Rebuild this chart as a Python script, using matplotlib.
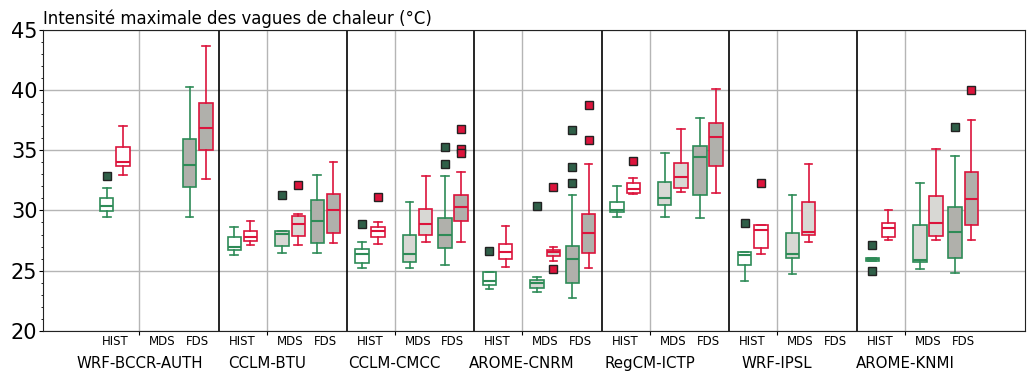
import matplotlib
matplotlib.use("Agg")
import matplotlib.pyplot as plt
from matplotlib.ticker import MultipleLocator, FixedLocator

models = ['WRF-BCCR-AUTH', 'CCLM-BTU', 'CCLM-CMCC', 'AROME-CNRM',
          'RegCM-ICTP', 'WRF-IPSL', 'AROME-KNMI']
periods = ['HIST', 'MDS', 'FDS']

# (whislo, q1, median, q3, whishi) per model; None = no data
green_hist = [
    (29.48, 29.97, 30.33, 31.02, 31.85),
    (26.33, 26.69, 26.93, 27.82, 28.65),
    (25.25, 25.66, 26.41, 26.80, 27.35),
    (23.51, 23.85, 24.18, 24.89, 24.89),
    (29.48, 29.83, 30.00, 30.66, 32.04),
    (24.12, 25.50, 26.33, 26.55, 26.55),
    (25.77, 25.77, 25.94, 26.05, 26.05),
]
green_hist_fl = [[32.87], [], [28.84], [26.6], [], [28.92], [27.15, 24.94]]

red_hist = [
    (32.90, 33.70, 33.98, 35.28, 37.04),
    (27.15, 27.43, 27.82, 28.26, 29.09),
    (27.24, 27.82, 28.26, 28.62, 29.00),
    (25.30, 25.99, 26.57, 27.18, 28.73),
    (31.40, 31.46, 31.77, 32.27, 32.68),
    (26.41, 26.88, 28.40, 28.79, 28.79),
    (27.54, 27.82, 28.54, 28.92, 30.00),
]
red_hist_fl = [[], [], [31.13], [], [34.12], [32.24], []]

green_mds = [
    None,
    (26.44, 27.07, 28.07, 28.26, 28.30),
    (25.25, 25.72, 26.41, 27.98, 30.66),
    (23.20, 23.59, 23.98, 24.23, 24.48),
    (29.48, 30.47, 31.00, 32.35, 34.75),
    (24.70, 26.05, 26.41, 28.15, 31.30),
    (25.14, 25.69, 25.91, 28.81, 32.27),
]
green_mds_fl = [[], [31.3], [], [30.39], [], [], []]

red_mds = [
    None,
    (27.15, 27.90, 28.90, 29.55, 29.72),
    (27.35, 27.98, 28.90, 30.11, 32.87),
    (25.77, 26.24, 26.52, 26.74, 26.99),
    (31.52, 31.85, 32.76, 33.90, 36.74),
    (27.35, 27.98, 28.20, 30.66, 33.81),
    (27.54, 27.90, 28.92, 31.19, 35.08),
]
red_mds_fl = [[], [32.07], [], [31.93, 25.14], [], [], []]

green_fds = [
    (29.48, 31.93, 33.73, 35.90, 40.20),
    (26.44, 27.32, 29.14, 30.86, 32.96),
    (25.44, 26.88, 27.98, 29.39, 32.87),
    (22.73, 23.98, 25.99, 27.07, 31.30),
    (29.39, 31.27, 34.42, 35.36, 37.68),
    None,
    (24.78, 26.05, 28.18, 30.28, 34.53),
]
green_fds_fl = [[], [], [35.28, 33.81], [36.66, 33.62, 32.24], [], [], [36.93]]

red_fds = [
    (32.62, 35.00, 36.82, 38.87, 43.67),
    (27.26, 28.15, 30.06, 31.38, 34.00),
    (27.35, 29.09, 30.25, 31.30, 33.18),
    (25.22, 26.44, 28.15, 29.72, 33.81),
    (31.41, 33.70, 36.08, 37.21, 40.08),
    None,
    (27.54, 28.81, 30.94, 33.18, 37.49),
]
red_fds_fl = [[], [], [36.74, 35.08, 34.72], [38.78, 35.83], [], [], [40.0]]

title = "Intensité maximale des vagues de chaleur (°C)"

GREEN = '#2e8b57'
RED = '#dc143c'
GREEN_FL = '#2f5f48'
FILLS = ['white', '#d8d8d4', '#b0b0ab']
period_off = [0.12, 0.494, 0.77]
pair_gap = 0.127
box_w = 0.105

fig = plt.figure(figsize=(10.27, 3.74), dpi=100)
ax = fig.add_axes([0.0419, 0.115, 0.9561, 0.806])

series = [
    (GREEN, GREEN_FL, 0.0, [green_hist, green_mds, green_fds],
     [green_hist_fl, green_mds_fl, green_fds_fl]),
    (RED, RED, pair_gap, [red_hist, red_mds, red_fds],
     [red_hist_fl, red_mds_fl, red_fds_fl]),
]

for color, flc, shift, stats_lists, fl_lists in series:
    for p in range(3):
        for k in range(len(models)):
            s = stats_lists[p][k]
            if s is None:
                continue
            st = dict(whislo=s[0], q1=s[1], med=s[2], q3=s[3], whishi=s[4],
                      fliers=fl_lists[p][k])
            pos = k + period_off[p] + shift
            ax.bxp([st], positions=[pos], widths=box_w, patch_artist=True,
                   showfliers=True, capwidths=0.06,
                   boxprops=dict(facecolor=FILLS[p], edgecolor=color, lw=1.2),
                   medianprops=dict(color=color, lw=1.5),
                   whiskerprops=dict(color=color, lw=1.2),
                   capprops=dict(color=color, lw=1.2),
                   flierprops=dict(marker='s', markersize=5.5,
                                   markerfacecolor=flc, markeredgecolor='#222222',
                                   markeredgewidth=1.0, linestyle='none'),
                   zorder=3)

for b in range(1, len(models)):
    ax.axvline(b, color='black', lw=1.2, zorder=2)

ax.set_xlim(-0.379, 7.317)
ax.set_ylim(20, 45)
ax.yaxis.set_major_locator(MultipleLocator(5))
ax.yaxis.set_minor_locator(MultipleLocator(1))
ax.tick_params(axis='y', labelsize=15, length=3, pad=1)
ax.tick_params(axis='y', which='minor', length=1.5)

major_x = [k + 0.376 for k in range(len(models))]
minor_x = [k + period_off[p] + pair_gap / 2 for k in range(len(models)) for p in range(3)]
ax.xaxis.set_major_locator(FixedLocator(major_x))
ax.set_xticklabels(models, fontsize=10.8)
ax.xaxis.set_minor_locator(FixedLocator(minor_x))
ax.xaxis.set_ticklabels([periods[p] for k in range(len(models)) for p in range(3)],
                        minor=True, fontsize=8.5)
ax.tick_params(axis='x', which='major', length=3, pad=15)
ax.tick_params(axis='x', which='minor', length=0, pad=3)

ax.grid(True, which='major', color='#b5b5b5', lw=1.0, zorder=0)
ax.set_axisbelow(True)
for sp in ax.spines.values():
    sp.set_color('#222222')

ax.set_title(title, loc='left', fontsize=11.9, pad=4)

fig.savefig('out.png', dpi=100)
